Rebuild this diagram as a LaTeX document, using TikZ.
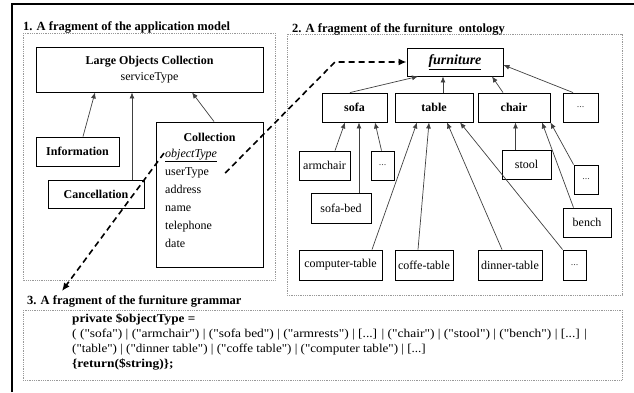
\documentclass[tikz,border=0pt]{standalone}
\usepackage{fontspec}
\setmainfont{Liberation Serif}
\usepackage{graphicx}
\usetikzlibrary{arrows.meta}

% straight double quotes round a grammar word
\newcommand{\quoted}[1]{\textquotedbl#1\textquotedbl}

\begin{document}
\begin{tikzpicture}[x=1pt, y=-1pt,
        box/.style={draw, line width=0.9pt, fill=white, inner sep=0pt, font=\fontsize{12}{14}\selectfont},
        bbox/.style={box, font=\fontsize{12}{14}\selectfont\bfseries},
        dotsbox/.style={box, font=\fontsize{10}{12}\selectfont, text=black!70},
        attr/.style={anchor=base west, inner sep=0pt, font=\fontsize{12}{14}\selectfont},
        codeline/.style={anchor=base west, inner sep=0pt, font=\fontsize{12}{14}\selectfont},
        title/.style={anchor=base west, inner sep=0pt, font=\fontsize{12.5}{14}\selectfont\bfseries},
        panel/.style={draw=black!40, densely dotted, line width=0.8pt},
        isa/.style={draw=black!75, line width=0.7pt, -{Latex[length=6pt,width=5pt]}},
        link/.style={line width=1.6pt, dash pattern=on 6pt off 4pt, -{Latex[length=8pt,width=7pt]}}]
        \useasboundingbox (0,0) rectangle (634,392);

        % Frame and the three panels
        \draw[line width=1.3pt] (12,392) -- (12,4) -- (634,4);
        \draw[panel] (23,33) rectangle (275,280);
        \draw[panel] (287,34) rectangle (622,295);
        \draw[panel] (23,310) rectangle (622,380);
        \node[title] (t1) at (23,30) {1. A fragment of the application model};
        \node[title] (t2) at (292,32) {2. A fragment of the furniture\ \ ontology};
        \node[title] (t3) at (27,304) {3. A fragment of the furniture grammar};

        % Application model
        \node[box, align=center, minimum width=227pt, minimum height=45pt, font=\fontsize{12}{16.5}\selectfont]
            (loc) at (149.5,69.5) {\textbf{Large Objects Collection}\\serviceType};
        \node[bbox, minimum width=83pt, minimum height=29pt] (info) at (77.5,151.5) {Information};
        \node[bbox, minimum width=96pt, minimum height=28pt] (canc) at (96,194) {Cancellation};
        \node[box, minimum width=107pt, minimum height=145pt] (coll) at (209.5,194.5) {};
        \node[attr, anchor=base, font=\fontsize{12}{14}\selectfont\bfseries] (colltitle) at (209.5,141) {Collection};
        \node[attr] (otype) at (165,157) {\underline{\textit{objectType}}};
        \node[attr] (utype) at (165,175) {userType};
        \node[attr] (addr) at (165,193) {address};
        \node[attr] (name) at (165,211) {name};
        \node[attr] (phone) at (165,229) {telephone};
        \node[attr] (date) at (165,247) {date};

        \draw[isa] ([xshift=5.5pt]info.north) -- ([xshift=-54.5pt]loc.south);
        \draw[isa] ([xshift=36pt]canc.north) -- ([xshift=-17.5pt]loc.south);
        \draw[isa] ([xshift=4.5pt]coll.north) -- ([xshift=42.5pt]loc.south);

        % Furniture ontology
        \node[box, minimum width=96pt, minimum height=28pt, font=\fontsize{14}{16}\selectfont\bfseries\itshape]
            (furn) at (455,62) {\underline{furniture}};
        \node[bbox, minimum width=65pt, minimum height=29pt] (sofa) at (354.5,107.5) {sofa};
        \node[bbox, minimum width=78pt, minimum height=29pt] (table) at (434,107.5) {table};
        \node[bbox, minimum width=72pt, minimum height=29pt] (chair) at (514,107.5) {chair};
        \node[dotsbox, minimum width=35pt, minimum height=29pt] (dots1) at (580.5,107.5) {...};
        \node[box, minimum width=51pt, minimum height=29pt] (armchair) at (324.5,165.5) {armchair};
        \node[dotsbox, minimum width=23pt, minimum height=29pt] (dots2) at (382.5,165.5) {...};
        \node[box, minimum width=60pt, minimum height=30pt] (sofabed) at (341,208) {sofa-bed};
        \node[box, minimum width=49pt, minimum height=29pt] (stool) at (526.5,164.5) {stool};
        \node[dotsbox, minimum width=24pt, minimum height=29pt] (dots3) at (586,179.5) {...};
        \node[box, minimum width=48pt, minimum height=29pt] (bench) at (587,222.5) {bench};
        \node[box, minimum width=83pt, minimum height=30pt] (comptab) at (340.5,265) {computer-table};
        \node[box, minimum width=58pt, minimum height=30pt] (coffe) at (424,265) {coffe-table};
        \node[box, minimum width=64pt, minimum height=30pt] (dinner) at (510,265) {dinner-table};
        \node[dotsbox, minimum width=23pt, minimum height=30pt] (dots4) at (574.5,265) {...};

        \draw[isa] ([xshift=-4.5pt]sofa.north) -- ([xshift=-37pt]furn.south);
        \draw[isa] ([xshift=9pt]table.north) -- ([xshift=-12pt]furn.south);
        \draw[isa] ([xshift=-11pt]chair.north) -- ([xshift=37pt]furn.south);
        \draw[isa] ([xshift=-7.5pt]dots1.north) -- ([yshift=-3pt]furn.east);
        \draw[isa] ([xshift=10.5pt]armchair.north) -- ([xshift=-9.5pt]sofa.south);
        \draw[isa] ([xshift=18pt]sofabed.north) -- ([xshift=4.5pt]sofa.south);
        \draw[isa] ([xshift=-1pt]dots2.north) -- ([xshift=20.5pt]sofa.south);
        \draw[isa] ([xshift=31.5pt]comptab.north) -- ([xshift=-17pt]table.south);
        \draw[isa] ([xshift=-6pt]coffe.north) -- ([xshift=-5pt]table.south);
        \draw[isa] ([xshift=-8pt]dinner.north) -- ([xshift=13pt]table.south);
        \draw[isa] (dots4.north west) -- ([xshift=26pt]table.south);
        \draw[isa] ([xshift=-11pt]stool.north) -- ([xshift=1.5pt]chair.south);
        \draw[isa] ([xshift=-13.5pt]bench.north) -- ([xshift=28pt]chair.south);
        \draw[isa] (dots3.north west) -- (chair.south east);

        % Furniture grammar
        \node[codeline] (code1) at (72,322) {\scalebox{1.1}[1]{\textbf{private \$objectType =}}};
        \node[codeline] (code2) at (72,337.5) {\scalebox{1.12}[1]{( (\quoted{sofa}) | (\quoted{armchair}) | (\quoted{sofa bed}) | (\quoted{armrests}) | [...] | (\quoted{chair}) | (\quoted{stool}) | (\quoted{bench}) | [...] |}};
        \node[codeline] (code3) at (72,352.5) {\scalebox{1.09}[1]{(\quoted{table}) | (\quoted{dinner table}) | (\quoted{coffe table}) | (\quoted{computer table}) | [...]}};
        \node[codeline] (code4) at (72,367.5) {\scalebox{1.12}[1]{\textbf{\{return(\$string)\};}}};

        % objectType is linked to the grammar and to the ontology
        \coordinate (gram) at (62,291);
        \coordinate (bend) at (335,62);
        \draw[link] ([xshift=-1pt,yshift=2pt]otype.west) -- (gram);
        \draw[link] ([xshift=8pt,yshift=-18pt]otype.east) -- (bend) -- (furn.west);

\end{tikzpicture}
\end{document}
